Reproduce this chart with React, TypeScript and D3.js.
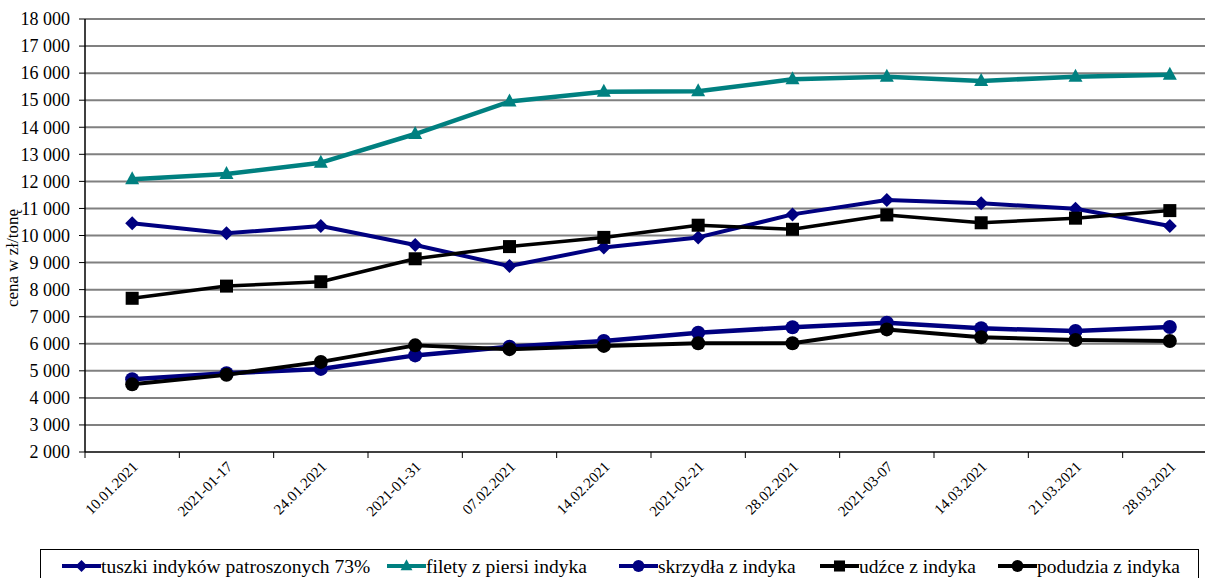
import * as d3 from 'd3';
import React from 'react';

const dates = [
    '10.01.2021', '2021-01-17', '24.01.2021', '2021-01-31', '07.02.2021', '14.02.2021',
    '2021-02-21', '28.02.2021', '2021-03-07', '14.03.2021', '21.03.2021', '28.03.2021',
];

const tuszki = [10450, 10080, 10350, 9650, 8870, 9560, 9930, 10780, 11310, 11190, 10990, 10350];
const filety = [12080, 12270, 12690, 13750, 14950, 15310, 15330, 15770, 15870, 15710, 15870, 15940];
const skrzydla = [4690, 4910, 5070, 5570, 5890, 6100, 6410, 6610, 6780, 6570, 6470, 6620];
const udzce = [7680, 8130, 8290, 9140, 9590, 9930, 10380, 10230, 10760, 10470, 10640, 10920];
const podudzia = [4500, 4850, 5330, 5940, 5800, 5920, 6020, 6020, 6530, 6240, 6140, 6100];

const yTicks = d3.range(2000, 18001, 1000);

type Marker = 'diamond' | 'triangle' | 'square' | 'circle';

const series: { name: string; values: number[]; color: string; width: number; marker: Marker }[] = [
    { name: 'tuszki indyków patroszonych 73%', values: tuszki, color: '#000080', width: 4, marker: 'diamond' },
    { name: 'filety z piersi indyka', values: filety, color: '#008080', width: 4.5, marker: 'triangle' },
    { name: 'skrzydła z indyka', values: skrzydla, color: '#000080', width: 4.5, marker: 'circle' },
    { name: 'udźce z indyka', values: udzce, color: '#000000', width: 3.5, marker: 'square' },
    { name: 'podudzia z indyka', values: podudzia, color: '#000000', width: 4, marker: 'circle' },
];

const legendX = [62, 387, 619, 820, 998];

const W = 1205, H = 578;
const plot = { left: 85, right: 1217, top: 19, bottom: 452 };
const font = "'Liberation Serif', 'Times New Roman', serif";

function markerPath(m: Marker, x: number, y: number, color: string, key: string, k = 1) {
    if (m === 'circle') return <circle key={key} cx={x} cy={y} r={7 * k} fill={color} />;
    if (m === 'square') return <rect key={key} x={x - 6.5 * k} y={y - 6.5 * k} width={13 * k} height={13 * k} fill={color} />;
    if (m === 'diamond') {
        const s = 7 * k;
        return <path key={key} d={`M${x},${y - s}L${x + s},${y}L${x},${y + s}L${x - s},${y}Z`} fill={color} />;
    }
    return <path key={key} d={`M${x},${y - 8 * k}L${x + 7 * k},${y + 5 * k}L${x - 7 * k},${y + 5 * k}Z`} fill={color} />;
}

const App: React.FC = () => {
    const x = d3.scaleBand<string>().domain(dates).range([plot.left, plot.right]);
    const y = d3.scaleLinear().domain([2000, 18000]).range([plot.bottom, plot.top]);
    const cx = (d: string) => (x(d) ?? 0) + x.bandwidth() / 2;

    const line = d3.line<number>()
        .x((_, i) => cx(dates[i]))
        .y((v) => y(v));

    const fmt = (v: number) => d3.format(',')(v).replace(',', ' ');
    const ts = { fontFamily: font };

    return (
        <svg width={W} height={H} style={{ position: 'absolute', left: 0, top: 0, background: '#fff' }}>
            {/* grid + y axis */}
            {yTicks.map((t) => (
                <g key={t}>
                    {t > 2000 && (
                        <line x1={plot.left} x2={W} y1={y(t)} y2={y(t)} stroke="#808080" strokeWidth={2} />
                    )}
                    <line x1={plot.left - 6} x2={plot.left} y1={y(t)} y2={y(t)} stroke="#000" strokeWidth={1} />
                    <text x={70} y={y(t)} dy="0.35em" textAnchor="end" fontSize={18} style={ts}>{fmt(t)}</text>
                </g>
            ))}

            <line x1={plot.left} x2={plot.left} y1={plot.top} y2={plot.bottom} stroke="#000" strokeWidth={1.5} />
            <line x1={plot.left} x2={W} y1={plot.bottom} y2={plot.bottom} stroke="#000" strokeWidth={1.5} />
            {dates.map((d) => (
                <line key={'t' + d} x1={x(d)} x2={x(d)} y1={plot.bottom} y2={plot.bottom + 6} stroke="#000" strokeWidth={1} />
            ))}
            {dates.map((d) => (
                <text key={'l' + d} transform={`translate(${cx(d) + 3},${plot.bottom + 12}) rotate(-45)`}
                    textAnchor="end" dy="0.35em" fontSize={15} style={ts}>{d}</text>
            ))}

            <text transform={`translate(18,258) rotate(-90)`} textAnchor="middle" fontSize={17} style={ts}>cena w zł/tonę</text>

            {/* series */}
            {series.map((s) => (
                <g key={s.name}>
                    <path d={line(s.values) ?? ''} fill="none" stroke={s.color} strokeWidth={s.width} strokeLinejoin="round" />
                    {s.values.map((v, i) => markerPath(s.marker, cx(dates[i]), y(v), s.color, s.name + i))}
                </g>
            ))}

            {/* legend */}
            <rect x={40.5} y={549.5} width={1158} height={40} fill="#fff" stroke="#000" strokeWidth={1} />
            {series.map((s, i) => (
                <g key={'lg' + s.name}>
                    <line x1={legendX[i]} x2={legendX[i] + 39} y1={566} y2={566} stroke={s.color} strokeWidth={4} />
                    {markerPath(s.marker, legendX[i] + 19.5, 566, s.color, 'lm' + i, 0.85)}
                    <text x={legendX[i] + 39} y={566} dy="0.35em" fontSize={19.5} style={ts}>{s.name}</text>
                </g>
            ))}
        </svg>
    );
};

export default App;
